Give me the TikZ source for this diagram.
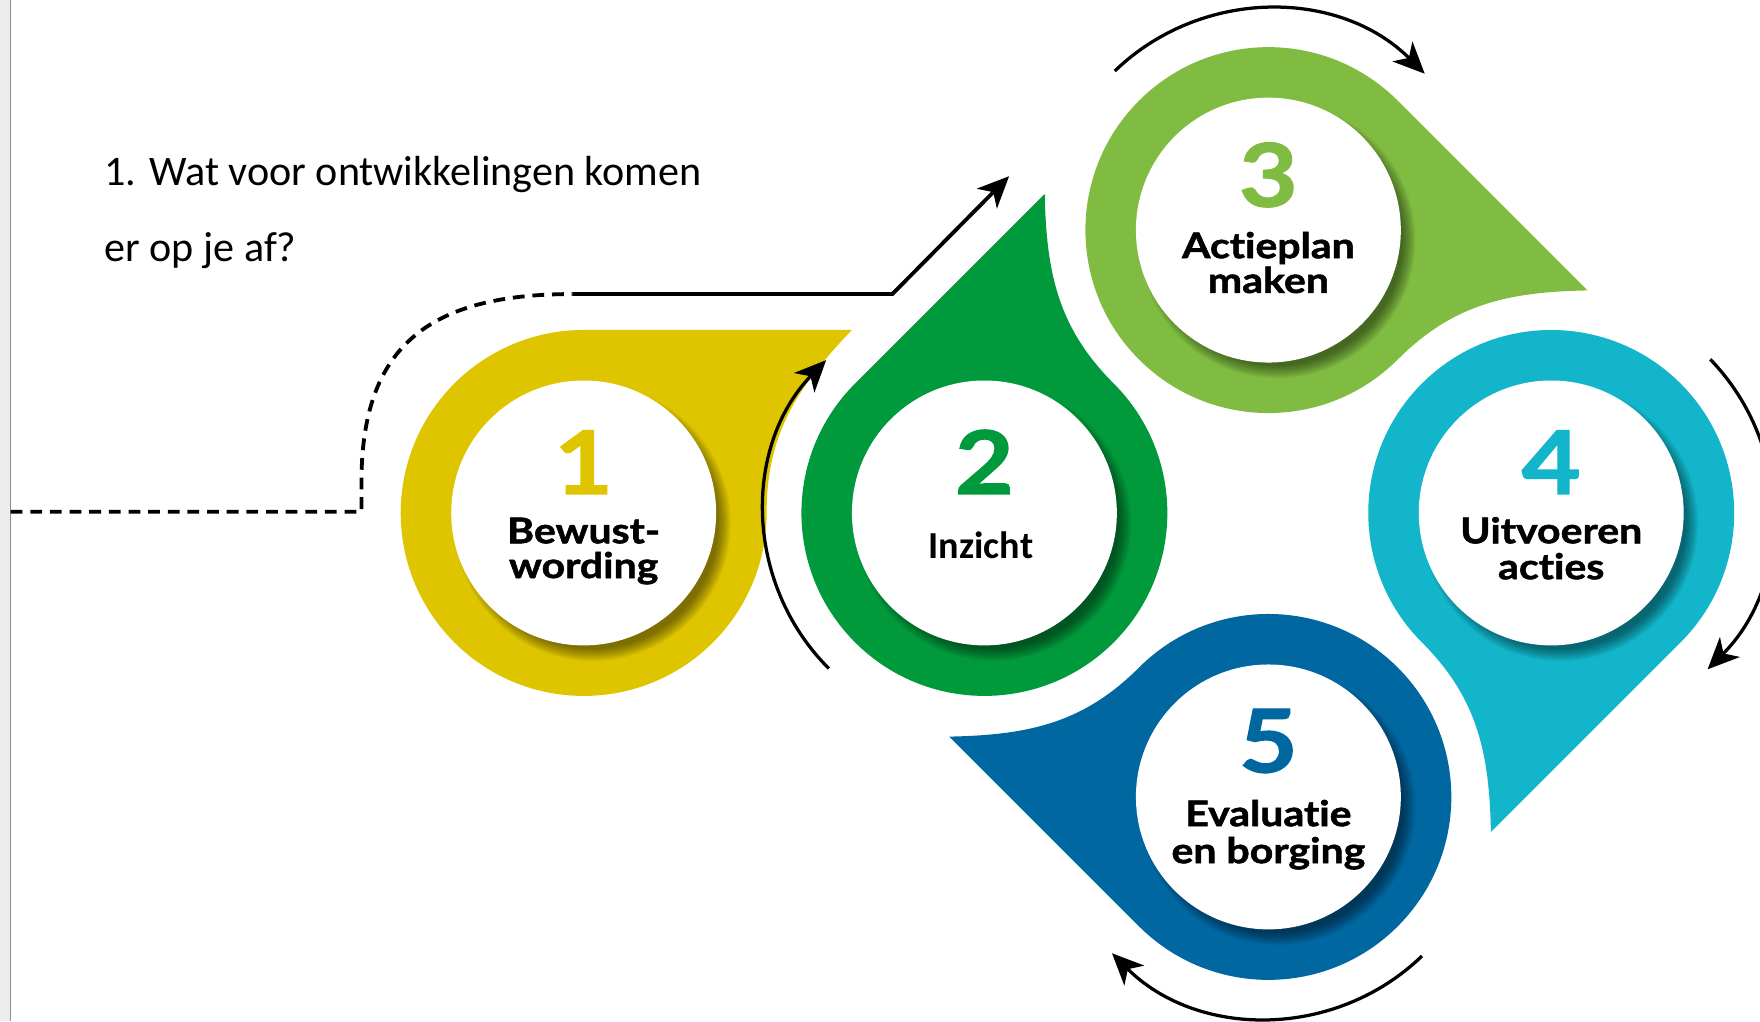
\documentclass[tikz,border=0pt]{standalone}
\usepackage{fontspec}
\setmainfont{Carlito}
\newfontfamily\lblfont{Lato}[FakeStretch=1.16,FakeBold=1.5,Ligatures={NoCommon,NoDiscretionary}]
\usetikzlibrary{arrows.meta,calc}
\definecolor{cyel}{HTML}{DEC500}
\definecolor{cgrn}{HTML}{009A3D}
\definecolor{clim}{HTML}{80BC41}
\definecolor{ccya}{HTML}{12B5C9}
\definecolor{cblu}{HTML}{0067A1}
\definecolor{edgegray}{HTML}{8C8C8C}
\tikzset{
  numtxt/.style={font=\lblfont\bfseries\fontsize{78}{78}\selectfont, anchor=base, inner sep=0pt},
  lbltxt/.style={font=\lblfont\bfseries\fontsize{31.5}{31.5}\selectfont, anchor=base, inner sep=0pt},
  bodytxt/.style={font=\fontsize{37.5}{37.5}\selectfont, anchor=base west, inner sep=0pt},
  arcarrow/.style={line width=2.9pt, -{Stealth[length=28pt,width=25pt,inset=8pt]}},
  dashline/.style={line width=3.4pt, dash pattern=on 10.5pt off 7pt},
  solidline/.style={line width=3.4pt, -{Stealth[length=28pt,width=25pt,inset=8pt]}},
}
\newcommand\tdrop[4]{%
  \coordinate (#1) at #2;
  \begin{scope}[shift={#2}]
    \begin{scope}[rotate=#3]
      \fill[#4] (0,163) -- (239,163) .. controls (190,112) and (163,70) .. (163,0)
        arc[start angle=0,end angle=-270,radius=163] -- cycle;
    \end{scope}
    \foreach \k in {0,...,11} \fill[black,opacity=0.045] (8,-9) circle[radius=112+\k];
    \fill[white] (0,0) circle[radius=118];
  \end{scope}}
\begin{document}
\begin{tikzpicture}[x=1pt,y=1pt]
\useasboundingbox (0,0) rectangle (1568,910);
\clip (0,0) rectangle (1568,910);
\fill[white] (0,0) rectangle (1568,910);
\fill[black!7] (0,0) rectangle (8.5,910);
\draw[edgegray, line width=1.6pt] (9.3,0) -- (9.3,910);

% question text
\node[bodytxt] (q1) at (93,745) {1. Wat voor ontwikkelingen komen};
\node[bodytxt] (q2) at (93,677) {er op je af?};

% teardrops
\tdrop{c1}{(520,453)}{0}{cyel}
\tdrop{c2}{(877,453)}{45}{cgrn}
\tdrop{c3}{(1130,705)}{-45}{clim}
\tdrop{c4}{(1382,453)}{-135}{ccya}
\tdrop{c5}{(1130,200)}{135}{cblu}

% numbers
\node[numtxt, text=cyel] (n1) at ($(c1)+(0,17)$) {1};
\node[numtxt, text=cgrn] (n2) at ($(c2)+(0,17)$) {2};
\node[numtxt, text=clim] (n3) at ($(c3)+(0,21)$) {3};
\node[numtxt, text=ccya] (n4) at ($(c4)+(0,17)$) {4};
\node[numtxt, text=cblu] (n5) at ($(c5)+(0,22)$) {5};

% labels
\node[lbltxt] (l1a) at ($(c1)+(0,-27)$) {Bewust-};
\node[lbltxt] (l1b) at ($(c1)+(0,-58)$) {wording};
\node[anchor=base, inner sep=0pt, font=\bfseries\fontsize{34}{34}\selectfont] (l2) at ($(c2)+(-3,-41)$) {Inzicht};
\node[lbltxt] (l3a) at ($(c3)+(0,-25)$) {Actieplan};
\node[lbltxt] (l3b) at ($(c3)+(0,-56)$) {maken};
\node[lbltxt] (l4a) at ($(c4)+(0,-27)$) {Uitvoeren};
\node[lbltxt] (l4b) at ($(c4)+(0,-59)$) {acties};
\node[lbltxt] (l5a) at ($(c5)+(0,-26)$) {Evaluatie};
\node[lbltxt] (l5b) at ($(c5)+(0,-59)$) {en borging};

% cycle arrows
\draw[arcarrow] ($(c2)+(225:196)$) arc[start angle=225,end angle=136,radius=196];
\draw[arcarrow] ($(c3)+(134:197)$) arc[start angle=134,end angle=45,radius=197];
\draw[arcarrow] ($(c4)+(44:197)$) arc[start angle=44,end angle=-45,radius=197];
\draw[arcarrow] ($(c5)+(-46:197)$) arc[start angle=-46,end angle=-135,radius=197];

% dashed / solid lead-in connector
\coordinate (ds) at (9.5,454);
\coordinate (dk) at (322,454);
\coordinate (dk2) at (322,480);
\coordinate (dc) at (510,648);
\coordinate (sk) at (795,648);
\coordinate (st) at (899,753);
\draw[dashline] (ds) -- (dk) -- (dk2) .. controls (322,600) and (380,648) .. (dc);
\draw[solidline] (dc) -- (sk) -- (st);
\end{tikzpicture}
\end{document}
